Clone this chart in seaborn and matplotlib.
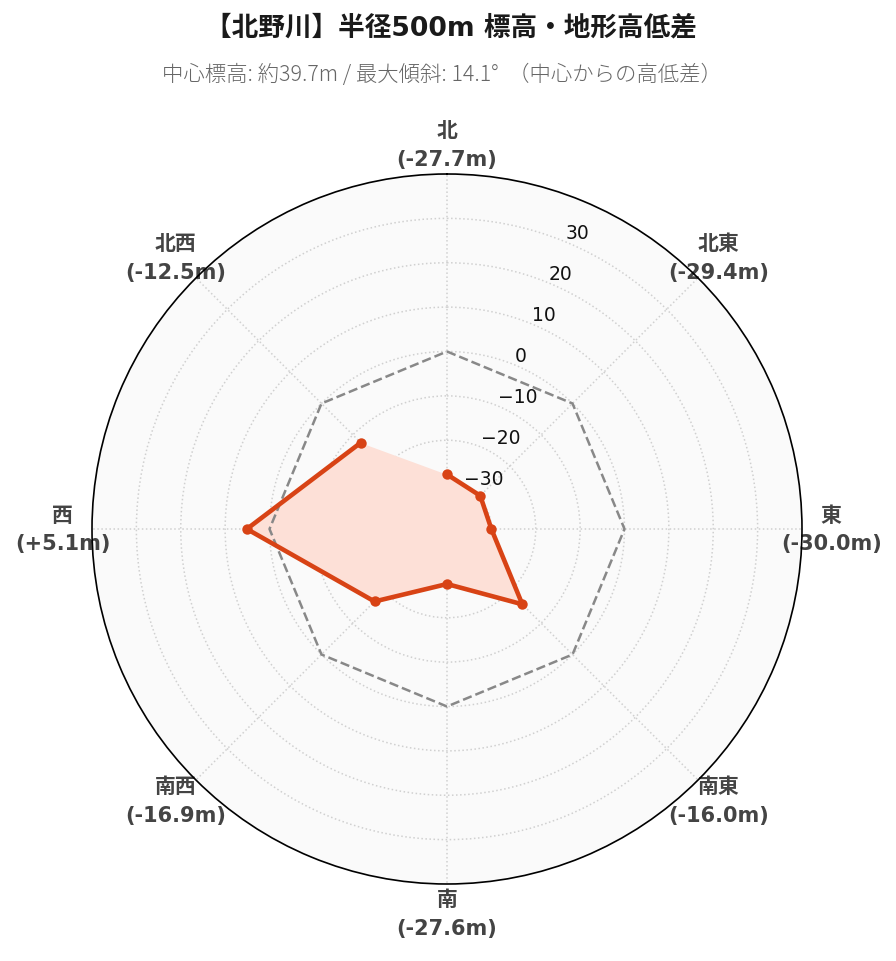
import numpy as np
import matplotlib
matplotlib.use("Agg")
import matplotlib.pyplot as plt
import seaborn as sns

# ─── Datos ───────────────────────────────────────────────────────────────────
direcciones = ["北", "北東", "東", "南東", "南", "南西", "西", "北西"]
desniveles  = [-27.7, -29.4, -30.0, -16.0, -27.6, -16.9, 5.1, -12.5]
referencia  = [0, 0, 0, 0, 0, 0, 0, 0]
ticks_r     = [-30, -20, -10, 0, 10, 20, 30]

titulo    = "【北野川】半径500m 標高・地形高低差"
subtitulo = "中心標高: 約39.7m / 最大傾斜: 14.1°  （中心からの高低差）"

# ─── Estilo ──────────────────────────────────────────────────────────────────
sns.set_theme(style="white")
fam_latin = ["DejaVu Sans", "Noto Sans CJK JP"]
fam_cjk   = ["Noto Sans CJK JP", "DejaVu Sans"]
plt.rcParams["font.family"] = fam_latin

color_linea = "#d84315"
color_relleno = "#fde0d7"

theta = np.linspace(0, 2 * np.pi, len(direcciones), endpoint=False)
theta_c = np.append(theta, theta[0])
vals_c  = np.append(desniveles, desniveles[0])
ref_c   = np.append(referencia, referencia[0])

fig = plt.figure(figsize=(8.96, 9.62), dpi=100)
ax = fig.add_axes([92 / 896, 77 / 962, 710 / 896, 710 / 962], projection="polar")
ax.set_facecolor("#fafafa")
ax.set_theta_zero_location("N")
ax.set_theta_direction(-1)
ax.set_ylim(-40, 40)

# Línea de referencia (0 m)
ax.plot(theta_c, ref_c, color="#888888", linestyle="--", linewidth=1.8, zorder=3)

# Relleno + contorno
ax.fill_between(theta_c, -40, vals_c, color=color_relleno, linewidth=0, zorder=2)
sns.lineplot(x=theta_c, y=vals_c, sort=False, color=color_linea,
             linewidth=3.3, marker="o", markersize=7.5,
             markeredgewidth=0, ax=ax, zorder=4)

# Ejes
ax.set_xticks(theta)
ax.set_xticklabels([])
ax.set_yticks(ticks_r)
ax.set_yticklabels([f"{t}".replace("-", "\u2212") for t in ticks_r],
                   fontsize=13.5, color="#111111", family="DejaVu Sans")
ax.set_rlabel_position(22.5)
ax.grid(True, color="#d0d0d0", linestyle=":", linewidth=1.1)
ax.spines["polar"].set_color("black")
ax.spines["polar"].set_linewidth(1.2)
ax.set_xlabel("")
ax.set_ylabel("")

# Etiquetas de dirección con el desnivel
for th, d, v in zip(theta, direcciones, desniveles):
    etiqueta = f"{d}\n({v:+.1f}m)".replace("+-", "-")
    ax.text(th, 46.6, etiqueta, ha="center", va="center",
            fontsize=15, fontweight="bold", color="#444444",
            linespacing=1.55, family=fam_latin, clip_on=False, zorder=1)

fig.text(0.503, 1 - 28 / 962, titulo, ha="center", va="center",
         fontsize=19.2, fontweight="bold", color="#1a1a1a",
         family=fam_latin)
fig.text(0.493, 1 - 75 / 962, subtitulo, ha="center", va="center",
         fontsize=15.4, fontweight="light", color="#666666",
         family=fam_cjk)

plt.savefig("out.png", dpi=100)
